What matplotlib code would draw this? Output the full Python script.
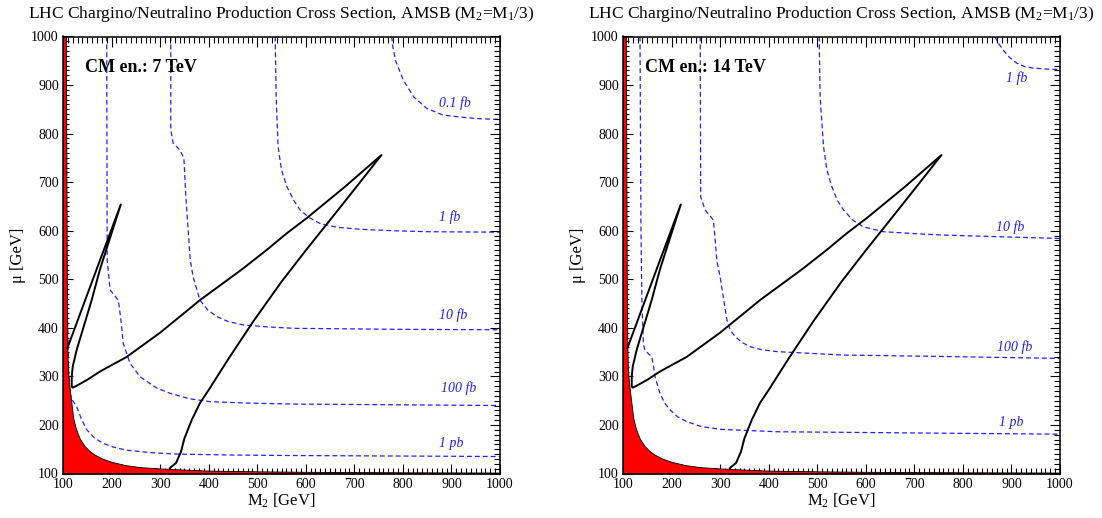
import matplotlib
matplotlib.use("Agg")
import matplotlib.pyplot as plt
from matplotlib.ticker import MultipleLocator

plt.rcParams['font.family'] = ['Liberation Serif', 'DejaVu Serif']
plt.rcParams['mathtext.fontset'] = 'custom'
plt.rcParams['mathtext.rm'] = 'Liberation Serif'
plt.rcParams['mathtext.it'] = 'Liberation Serif:italic'
plt.rcParams['lines.scale_dashes'] = False

# excluded region (red), same in both panels
red_m2 = [100, 106, 107, 108, 109, 110, 112, 115, 118, 121, 125, 130, 135, 145, 155, 165,
          180, 200, 230, 260, 300, 350, 400, 500, 600, 800, 1000]
red_mu = [1000, 1000, 700, 450, 360, 320, 290, 265, 240, 215, 198, 183, 171, 156, 146, 139,
          131, 124, 117, 113, 110.5, 108, 106, 104.5, 103.5, 102.5, 102]

# black contour (same in both panels)
cont_m2 = [109, 169, 219, 176, 159, 128, 120, 118, 118, 120, 125, 150, 176, 231, 300, 382,
           468, 519, 560, 602, 680, 756, 700, 650, 602, 550, 491, 440, 400, 382, 365, 350,
           343, 333, 320]
cont_mu = [358, 520, 654, 520, 457, 354, 320, 299, 279, 277, 279, 293, 310, 340, 390, 457,
           520, 560, 594, 626, 690, 756, 685, 622, 562, 495, 412, 335, 272, 245, 210, 172,
           145, 122, 111]

# cross section contours, 7 TeV
c7 = {
    "0.1 fb": ([777, 779, 785, 801, 822, 849, 883, 920, 952, 1000],
               [1000, 980, 950, 910, 876, 852, 838, 834, 831, 829]),
    "1 fb": ([537, 539, 543, 550, 561, 575, 588, 607, 629, 665, 712, 780, 849, 1000],
             [1000, 876, 773, 725, 691, 663, 643, 627, 615, 607, 603, 600, 598, 597]),
    "10 fb": ([322, 322, 327, 341, 349, 353, 362, 368, 382, 398, 417, 440, 471, 520, 574, 780, 1000],
              [1000, 808, 780, 766, 749, 670, 540, 505, 457, 437, 423, 413, 406, 402, 399, 397, 396]),
    "100 fb": ([190, 191, 197, 214, 220, 224, 238, 259, 293, 321, 360, 403, 480, 574, 1000],
               [1000, 540, 478, 457, 410, 368, 327, 299, 276, 265, 254, 248, 245, 243, 240]),
    "1 pb": ([106, 108, 111, 114, 120, 128, 138, 149, 165, 183, 205, 231, 280, 334, 450, 574, 1000],
             [1000, 500, 320, 265, 250, 238, 212, 190, 173, 162, 154, 148, 143, 140, 138, 137, 135]),
}
lab7 = {"0.1 fb": (907, 862), "1 fb": (897, 629), "10 fb": (904, 426),
        "100 fb": (914, 276), "1 pb": (900, 161)}

# cross section contours, 14 TeV
c14 = {
    "1 fb": ([866, 872, 883, 896, 911, 927, 945, 970, 1000],
             [1000, 988, 972, 957, 945, 938, 935, 933, 932]),
    "10 fb": ([504, 506, 513, 520, 530, 541, 554, 573, 595, 636, 700, 760, 1000],
              [1000, 876, 773, 725, 691, 663, 643, 622, 608, 598, 594, 591, 584]),
    "100 fb": ([259, 260, 269, 286, 290, 293, 300, 314, 321, 331, 345, 362, 385, 417, 554, 760, 1000],
               [1000, 670, 643, 622, 580, 540, 505, 416, 395, 382, 370, 361, 355, 351, 344, 341, 337]),
    "1 pb": ([135, 137, 139, 142, 145, 152, 159, 163, 166, 176, 186, 197, 212, 231, 260, 300, 417, 760, 1000],
             [1000, 600, 450, 368, 354, 347, 341, 320, 299, 265, 245, 231, 217, 207, 197, 191, 186, 183, 181]),
}
lab14 = {"1 fb": (911, 915), "10 fb": (897, 607), "100 fb": (907, 361), "1 pb": (900, 205)}

title = "LHC Chargino/Neutralino Production Cross Section, AMSB (M$_2$=M$_1$/3)"

fig = plt.figure(figsize=(11.02, 5.18), dpi=100)
ax1 = fig.add_axes([63 / 1102, 44.5 / 518, 437 / 1102, 437 / 518])
ax2 = fig.add_axes([623 / 1102, 44.5 / 518, 437 / 1102, 437 / 518])


def draw_panel(ax, curves, labels, energy):
    ax.set_xlim(100, 1000)
    ax.set_ylim(100, 1000)
    for name, (xs, ys) in curves.items():
        ax.plot(xs, ys, color='#2020ff', lw=0.9, dashes=(3.5, 2.2), zorder=1)
        lx, ly = labels[name]
        ax.text(lx, ly, name, color='#2020e0', style='italic', fontsize=10,
                ha='center', va='center')
    ax.fill_between(red_m2, red_mu, 100, facecolor='red', edgecolor='black', lw=0.6, zorder=2)
    ax.plot(cont_m2, cont_mu, color='black', lw=1.4, zorder=3)
    ax.text(145, 937, "CM en.: %s TeV" % energy, fontsize=13, fontweight='bold',
            ha='left', va='center')
    ax.set_title(title, fontsize=12.5, pad=13)
    ax.set_xlabel("M$_2$ [GeV]", fontsize=12, labelpad=1)
    ax.set_ylabel("\u03bc [GeV]", fontsize=12, labelpad=4)
    ax.xaxis.set_major_locator(MultipleLocator(100))
    ax.xaxis.set_minor_locator(MultipleLocator(10))
    ax.yaxis.set_major_locator(MultipleLocator(100))
    ax.yaxis.set_minor_locator(MultipleLocator(10))
    ax.tick_params(which='both', direction='in', top=True, right=True, labelsize=10, width=0.8)
    ax.tick_params(which='major', length=7.5, pad=3)
    ax.tick_params(which='minor', length=4)
    for s in ax.spines.values():
        s.set_linewidth(1.1)
        s.set_zorder(5)


draw_panel(ax1, c7, lab7, "7")
draw_panel(ax2, c14, lab14, "14")

fig.savefig("out.png", dpi=100)
